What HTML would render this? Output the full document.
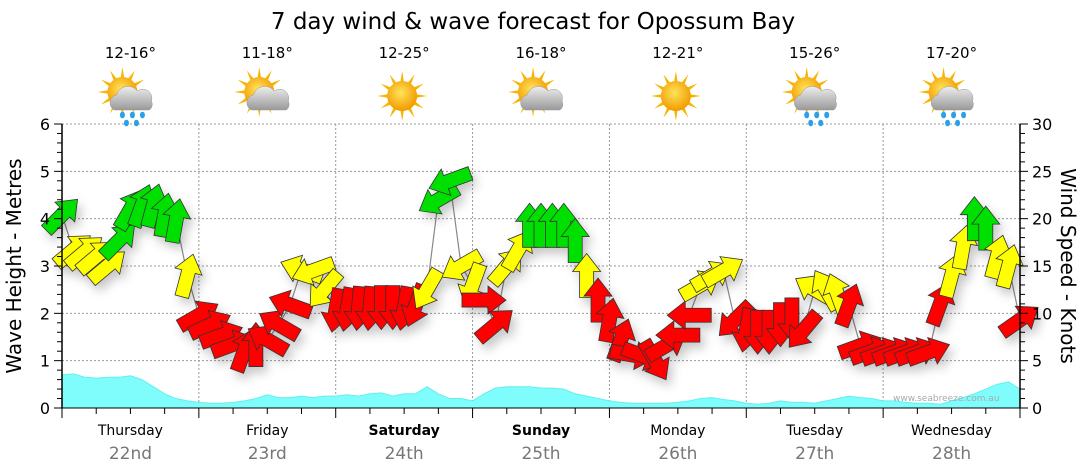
<!DOCTYPE html>
<html><head><meta charset="utf-8"><style>
body{margin:0;background:#fff;}
svg{display:block;font-family:"DejaVu Sans","Liberation Sans",sans-serif;}
</style></head><body>
<svg id="c" width="1080" height="475" viewBox="0 0 1080 475">
<defs>
<filter id="sh" x="-50%" y="-50%" width="200%" height="200%"><feDropShadow dx="4" dy="6" stdDeviation="5" flood-color="#000" flood-opacity="0.22"/></filter>
<radialGradient id="sun" cx="45%" cy="40%" r="60%"><stop offset="0" stop-color="#ffe45a"/><stop offset="1" stop-color="#f29a00"/></radialGradient>
<linearGradient id="cl" x1="0" y1="0" x2="0" y2="1"><stop offset="0" stop-color="#eee"/><stop offset="1" stop-color="#999"/></linearGradient>
</defs>
<text x="533" y="29" text-anchor="middle" font-size="23" fill="#000">7 day wind &amp; wave forecast for Opossum Bay</text>
<g id="grid"></g>
<g id="wave"></g>
<g id="wind"></g>
<g id="axes"></g>
<g id="days"></g>
<text x="893" y="401" font-size="9" fill="#aaa">www.seabreeze.com.au</text>
<text transform="translate(21,266) rotate(-90)" text-anchor="middle" font-size="20" fill="#000">Wave Height - Metres</text>
<text transform="translate(1061,266) rotate(90)" text-anchor="middle" font-size="20" fill="#000">Wind Speed - Knots</text>
</svg>
<script>
const dayNames=["Thursday","Friday","Saturday","Sunday","Monday","Tuesday","Wednesday"];
const dayDates=["22nd","23rd","24th","25th","26th","27th","28th"];
const dayBold=[false,false,true,true,false,false,false];
const temps=["12-16°","11-18°","12-25°","16-18°","12-21°","15-26°","17-20°"];
const icons=["rain","cloud","sun","cloud","sun","rain","rain"];
const leftTicks=[0,1,2,3,4,5,6];
const rightTicks=[0,5,10,15,20,25,30];
// wind every 2 hours (85 points)
const windSpeed=[20.4,16.7,16.5,16,15,17.7,21,21.4,21.4,20.4,19.8,14,
 9.8,8.8,7.7,6.7,6.1,6.7,7.2,8.8,10.9,14.6,14.5,12.5,
 10.3,10.4,10.5,10.5,10.6,10.6,10.5,10.8,12.5,22,24,15,
 13,11.4,8.8,15,16.7,19.3,19.3,19.3,19.3,17.7,14,11.4,
 9.3,7.2,5.6,5.5,5,6.6,7.7,9.8,13,14,14.5,9.3,
 8.2,8,8,8.8,9.3,8.2,12.5,12.5,12,10.9,6.6,6,
 5.9,5.9,5.9,5.9,5.9,11,14,17,20,19,16,15,9.3];
const windDir=[45,50,50,50,50,45,30,20,15,10,10,15,
 60,65,70,70,20,0,300,300,290,290,250,220,
 190,190,185,185,180,180,190,200,210,240,250,240,
 200,90,50,40,30,0,0,0,0,0,0,0,
 10,20,100,110,150,60,270,270,60,60,60,225,
 190,180,180,180,180,220,300,330,340,20,70,70,
 70,70,70,70,70,20,15,10,0,0,15,15,55];
const waveHeight=[0.7,0.72,0.65,0.63,0.65,0.65,0.68,0.6,0.45,0.3,0.2,0.15,
 0.12,0.1,0.1,0.12,0.15,0.2,0.28,0.22,0.22,0.25,0.22,0.25,
 0.25,0.28,0.25,0.3,0.32,0.25,0.3,0.3,0.45,0.3,0.2,0.2,
 0.15,0.3,0.42,0.45,0.45,0.45,0.42,0.42,0.4,0.3,0.25,0.2,
 0.15,0.12,0.1,0.1,0.1,0.1,0.12,0.15,0.2,0.22,0.18,0.15,
 0.1,0.08,0.1,0.15,0.12,0.12,0.1,0.15,0.2,0.25,0.22,0.2,
 0.15,0.15,0.12,0.1,0.1,0.08,0.15,0.22,0.3,0.4,0.5,0.55,0.4];
const NS="http://www.w3.org/2000/svg";
const X0=62,X1=1020,Y0=408,Y1=124;
const xAt=i=>X0+i*(X1-X0)/84;
const yM=m=>Y0-m*(Y0-Y1)/6;
const yK=k=>Y0-k*(Y0-Y1)/30;
function mk(tag,attrs,parent){const e=document.createElementNS(NS,tag);for(const k in attrs)e.setAttribute(k,attrs[k]);parent.appendChild(e);return e;}
const grid=document.getElementById('grid'),axes=document.getElementById('axes'),days=document.getElementById('days');
for(const t of leftTicks){if(t>0){const l=mk('line',{x1:X0,x2:X1,y1:yM(t),y2:yM(t),stroke:'#999','stroke-dasharray':'2,2'},grid);

}}
for(let d=1;d<7;d++){const x=X0+d*(X1-X0)/7;const l=mk('line',{x1:x,x2:x,y1:Y1,y2:Y0,stroke:'#999','stroke-dasharray':'2,2'},grid);

}
let d='M'+X0+','+Y0;waveHeight.forEach((h,i)=>{d+=' L'+xAt(i)+','+yM(h);});d+=' L'+X1+','+Y0+' Z';
const wa=mk('path',{d:d,fill:'#7ffcfc',stroke:'#6ee'},document.getElementById('wave'));


const wind=document.getElementById('wind');
let ld='';windSpeed.forEach((k,i)=>{ld+=(i?' L':'M')+xAt(i)+','+yK(k);});
const wl=mk('path',{d:ld,fill:'none',stroke:'#888','stroke-width':1.2},wind);


const ag=mk('g',{filter:'url(#sh)'},wind);
windSpeed.forEach((k,i)=>{
 const col=k>=17.5?'#00e000':(k>=11.5?'#ffff00':'#ff0000');
 const p=mk('polygon',{points:'-7,22 7,22 7,-4 14,-4 0,-22 -14,-4 -7,-4',fill:col,stroke:'#333','stroke-width':0.8,transform:'translate('+xAt(i)+','+yK(k)+') rotate('+windDir[i]+')'},ag);
 
 
});
mk('line',{x1:X0,x2:X0,y1:Y1,y2:Y0,stroke:'#000','stroke-width':1.5},axes);
mk('line',{x1:X1,x2:X1,y1:Y1,y2:Y0,stroke:'#000','stroke-width':1.5},axes);
mk('line',{x1:X0,x2:X1,y1:Y0,y2:Y0,stroke:'#000','stroke-width':1},axes);
for(let m=0;m<=30;m++){const y=yM(m/5);const big=m%5==0;mk('line',{x1:X0-(big?8:5),x2:X0,y1:y,y2:y,stroke:'#000'},axes);}
for(let k=0;k<=30;k++){const y=yK(k);const big=k%5==0;mk('line',{x1:X1,x2:X1+(big?8:5),y1:y,y2:y,stroke:'#000'},axes);}
for(const t of leftTicks){const e=mk('text',{x:X0-12,y:yM(t)+6,'text-anchor':'end','font-size':16},axes);e.textContent=t;

}
for(const t of rightTicks){const e=mk('text',{x:X1+12,y:yK(t)+6,'font-size':16},axes);e.textContent=t;

}
for(let q=0;q<=28;q++){const x=X0+q*(X1-X0)/28;mk('line',{x1:x,x2:x,y1:Y0,y2:Y0+(q%4==0?10:6),stroke:'#000'},axes);}
function icon(g,cx,cy,type){
 const sx=type=='sun'?cx:cx-6,sy=type=='sun'?cy:cy-4;
 for(let a=0;a<12;a++){const r=a*30*Math.PI/180;mk('polygon',{points:`${sx+Math.cos(r-0.18)*12},${sy+Math.sin(r-0.18)*12} ${sx+Math.cos(r)*25},${sy+Math.sin(r)*25} ${sx+Math.cos(r+0.18)*12},${sy+Math.sin(r+0.18)*12}`,fill:'#f7b500'},g);}
 mk('circle',{cx:sx,cy:sy,r:15,fill:'url(#sun)'},g);
 if(type!='sun'){mk('path',{d:`M${cx-14},${cy+14} a8,8 0 0 1 2,-15 a12,12 0 0 1 21,-4 a9,9 0 0 1 14,10 a7,7 0 0 1 -2,9 Z`,fill:'url(#cl)',stroke:'#999','stroke-width':0.5},g);}
 if(type=='rain'){[[-6,19],[4,19],[14,19],[-2,27],[8,27]].forEach(p=>mk('ellipse',{cx:cx+p[0],cy:cy+p[1],rx:2.5,ry:3.3,fill:'#2aa0e8'},g));}
}
for(let i=0;i<7;i++){
 const cx=X0+(i+0.5)*(X1-X0)/7;
 const t=mk('text',{x:cx,y:58,'text-anchor':'middle','font-size':15},days);t.textContent=temps[i];
 
 
 const g=mk('g',{},days);
 
 
 icon(g,cx-2,96,icons[i]);
 const n=mk('text',{x:cx,y:435,'text-anchor':'middle','font-size':14,'font-weight':dayBold[i]?'bold':'normal'},days);n.textContent=dayNames[i];
 
 
 const dt=mk('text',{x:cx,y:459,'text-anchor':'middle','font-size':17,fill:'#777'},days);dt.textContent=dayDates[i];
 
 
}
</script>
</body></html>
